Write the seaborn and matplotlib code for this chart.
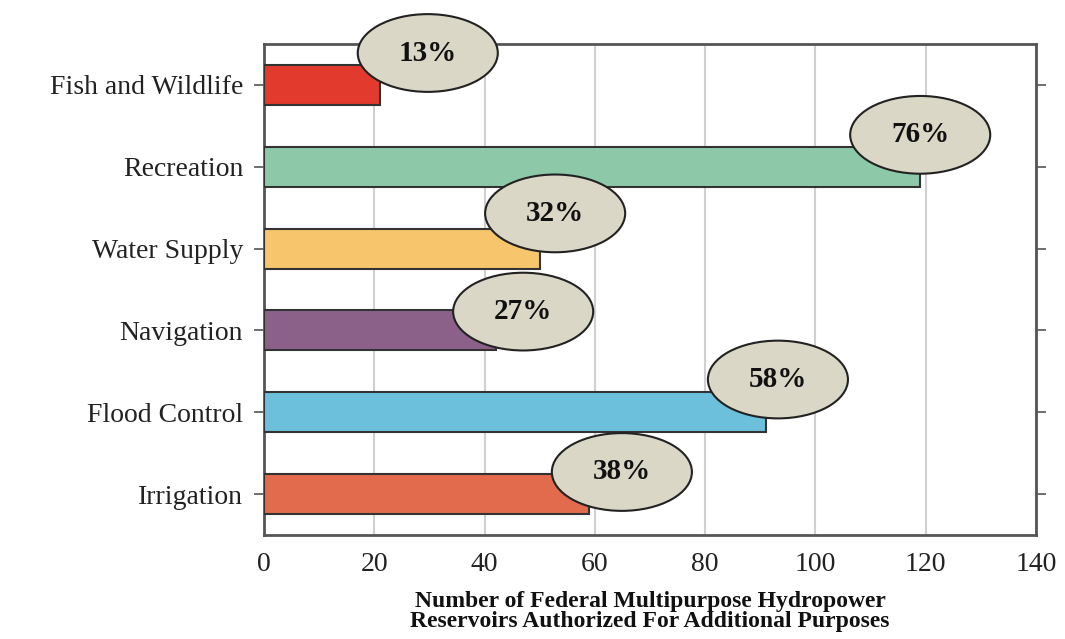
import matplotlib
matplotlib.use("Agg")
import matplotlib.pyplot as plt
import seaborn as sns
import pandas as pd
from matplotlib.patches import Ellipse

categories = ["Fish and Wildlife", "Recreation", "Water Supply", "Navigation", "Flood Control", "Irrigation"]
counts = [21, 119, 50, 42, 91, 59]
percent_labels = ["13%", "76%", "32%", "27%", "58%", "38%"]
bar_colors = ["#E23B2E", "#8DC9A9", "#F6C56C", "#8C6189", "#6CC0DB", "#E16B4C"]
# label bubble offsets relative to bar end (x units, category units)
label_dx = [8.7, 0.0, 2.8, 5.0, 2.2, 5.9]
label_dy = [-0.39, -0.39, -0.43, -0.23, -0.40, -0.27]

sns.set_theme(style="white")
plt.rcParams['font.family'] = ['Liberation Serif', 'DejaVu Serif']

df = pd.DataFrame({"category": categories, "count": counts})

fig = plt.figure(figsize=(10.65, 6.39), dpi=100)
ax = fig.add_axes([264/1065, 1 - 535/639, (1036-264)/1065, (535-44)/639])

sns.barplot(data=df, x="count", y="category", hue="category", palette=bar_colors,
            orient="h", width=0.49, edgecolor="#333333", linewidth=1.5, ax=ax,
            legend=False, saturation=1, zorder=3)

ax.set_xlim(0, 140)
ax.set_ylim(5.5, -0.5)
ax.set_xticks(range(0, 141, 20))
ax.xaxis.grid(True, color="#d0d0d0", linewidth=1.5, zorder=0)
ax.set_axisbelow(True)

for s in ax.spines.values():
    s.set_color("#555555")
    s.set_linewidth(2)

ax.tick_params(axis="x", which="both", direction="out", length=7, width=1.2,
               color="#555555", labelsize=20, pad=5, labelcolor="#222222")
ax.tick_params(axis="y", which="both", direction="out", length=7, width=1.2,
               color="#555555", labelsize=20, pad=8, right=True, left=True,
               labelcolor="#222222")
ax.set_ylabel("")
ax.set_xlabel("Number of Federal Multipurpose Hydropower\nReservoirs Authorized For Additional Purposes",
              fontsize=17, fontweight="bold", labelpad=10, linespacing=0.95,
              color="#111111")

for i, (v, lab) in enumerate(zip(counts, percent_labels)):
    cx = v + label_dx[i]
    cy = i + label_dy[i]
    e = Ellipse((cx, cy), width=25.4, height=0.95, facecolor="#DAD7C6",
                edgecolor="#222222", linewidth=1.5, zorder=5, clip_on=False)
    ax.add_patch(e)
    ax.text(cx, cy, lab, ha="center", va="center", fontsize=21,
            fontweight="bold", zorder=6, color="#111111")

fig.savefig("out.png", dpi=100)
